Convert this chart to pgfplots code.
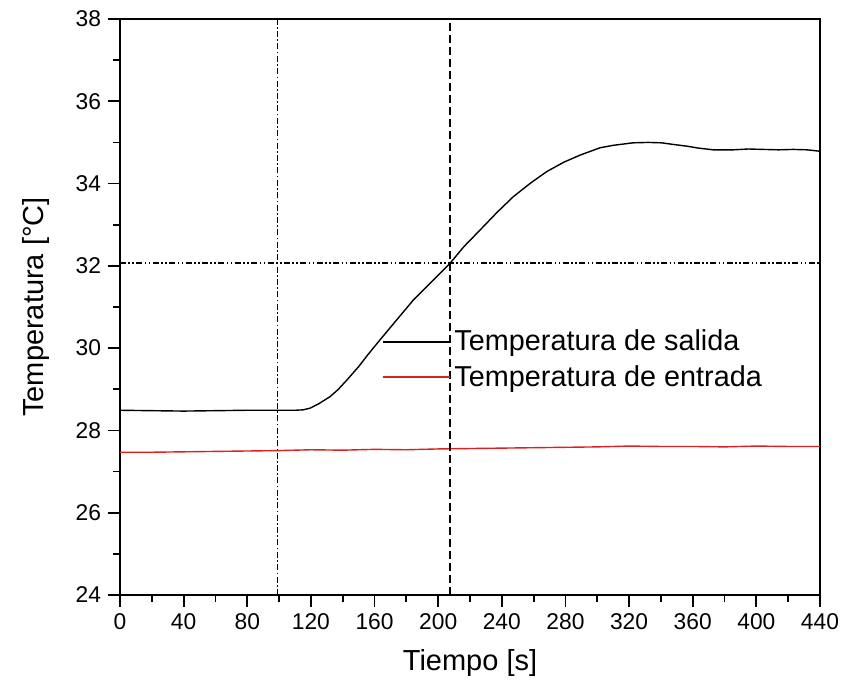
\documentclass[border=0pt]{standalone}
\usepackage{pgfplots}
\pgfplotsset{compat=1.18}
\usepackage{fontspec}
\setmainfont{Liberation Sans}
\definecolor{myred}{RGB}{215,35,35}
\begin{document}
\begin{tikzpicture}
\begin{axis}[
  scale only axis,
  width=350bp, height=288bp,
  xmin=0, xmax=440, ymin=24, ymax=38,
  xtick={0,40,...,440}, ytick={24,26,...,38},
  minor x tick num=1, minor y tick num=1,
  xtick pos=bottom, ytick pos=left,
  tick align=outside,
  major tick length=6bp, minor tick length=3.5bp,
  every tick/.style={black, line width=0.9bp},
  axis line style={line width=1bp},
  /pgf/number format/assume math mode=true,
  ticklabel style={font=\fontsize{11.4bp}{13bp}\selectfont},
  label style={font=\fontsize{14.5bp}{17bp}\selectfont},
  xlabel={Tiempo [s]}, ylabel={Temperatura [°C]},
  xlabel style={yshift=-3bp},
  ylabel style={yshift=6bp},
  legend style={draw=none, fill=none, inner sep=0pt, at={(rel axis cs:0.373,0.409)}, anchor=west,
    font=\fontsize{14.4bp}{17bp}\selectfont, row sep=2bp, cells={anchor=west}},
  legend image code/.code={\draw[#1, line width=1bp] (0bp,0bp) -- (33.5bp,0bp);},
  legend cell align=left,
]
\addplot[black, line width=0.7bp] coordinates {
(0,28.49) (20,28.48) (40,28.47) (60,28.48) (80,28.49) (100,28.49) (110,28.49) (115,28.50)
(119.4,28.54) (125,28.65) (132,28.82) (137,28.99) (142.5,29.22) (150,29.55) (156,29.85)
(163.4,30.2) (174,30.69) (184.4,31.17) (196,31.62) (207.4,32.06) (216,32.46) (226.3,32.87)
(237,33.30) (247.2,33.68) (258,34.01) (268.2,34.29) (279,34.52) (289.1,34.69) (301.7,34.87)
(310.1,34.93) (322.4,34.99) (332,35.0) (340.4,34.99) (348,34.95) (356.1,34.91) (364,34.86)
(372.9,34.82) (385.5,34.82) (395,34.84) (404.3,34.83) (414,34.82) (423.2,34.83) (432,34.82) (438.9,34.79) (440,34.78)
};
\addlegendentry{Temperatura de salida}
\addplot[myred, line width=0.7bp] coordinates {
(0,27.47) (20,27.47) (40,27.48) (60,27.49) (80,27.50) (100,27.51) (120,27.53) (140,27.52)
(160,27.54) (180,27.53) (200,27.55) (220,27.56) (240,27.57) (260,27.58) (280,27.59)
(300,27.60) (320,27.62) (340,27.61) (360,27.61) (380,27.60) (400,27.62) (420,27.61) (440,27.61)
};
\addlegendentry{Temperatura de entrada}
\addplot[black, line width=0.6bp, dash pattern=on 3bp off 1.2bp on 0.8bp off 1.2bp, forget plot] coordinates {(99.2,24) (99.2,38)};
\addplot[black, line width=0.6bp, dash pattern=on 4bp off 2bp, forget plot] coordinates {(207.4,24) (207.4,38)};
\addplot[black, line width=0.6bp, dash pattern=on 3bp off 1.2bp on 0.8bp off 1.2bp on 0.8bp off 1.2bp, forget plot] coordinates {(0,32.07) (440,32.07)};
\end{axis}
\pgfresetboundingbox
\path (current axis.south west) ++(-60bp,-45bp) rectangle ([shift={(12bp,9.5bp)}]current axis.north east);
\end{tikzpicture}
\end{document}
